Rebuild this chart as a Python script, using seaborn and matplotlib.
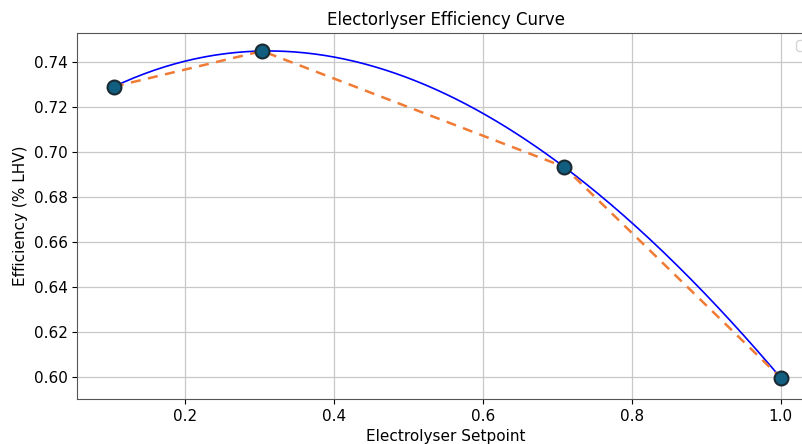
import numpy as np
import pandas as pd
import matplotlib
matplotlib.use("Agg")
import matplotlib.pyplot as plt
import seaborn as sns

setpoints = [0.105, 0.304, 0.709, 1.0]
efficiency = [0.7289, 0.7447, 0.6933, 0.5996]

df = pd.DataFrame({"setpoint": setpoints, "efficiency": efficiency})

# fitted curve (cubic through the measured points)
coef = np.polyfit(setpoints, efficiency, 3)
xs = np.linspace(min(setpoints), max(setpoints), 200)
fit = pd.DataFrame({"setpoint": xs, "efficiency": np.polyval(coef, xs)})

plt.rcParams['font.family'] = ['DejaVu Sans']
fig = plt.figure(figsize=(8.03, 4.44), dpi=100)
ax = fig.add_axes([77.3 / 803, 45 / 444, 737 / 803, 366 / 444])

sns.lineplot(data=fit, x="setpoint", y="efficiency", color="blue", lw=1.2, ax=ax)
sns.lineplot(data=df, x="setpoint", y="efficiency", color="#f07b35", lw=1.8,
             linestyle=(0, (4, 3)), ax=ax)
ax.plot(df["setpoint"], df["efficiency"], linestyle="none", marker="o",
        markersize=10, markerfacecolor="#125e80", markeredgecolor="#1a2a33",
        markeredgewidth=1.5, zorder=5)

ax.set_xlim(0.0558, 0.0558 + 737 / 745)
ax.set_ylim(0.5902, 0.7527)
ax.set_xticks([0.2, 0.4, 0.6, 0.8, 1.0])
ax.set_yticks([0.60, 0.62, 0.64, 0.66, 0.68, 0.70, 0.72, 0.74])
ax.grid(True, color="#c8c8c8", lw=0.9)
ax.set_axisbelow(True)
ax.tick_params(labelsize=11)
for s in ax.spines.values():
    s.set_color("#555555")
ax.set_title("Electorlyser Efficiency Curve", fontsize=12)
ax.set_xlabel("Electrolyser Setpoint", fontsize=11)
ax.set_ylabel("Efficiency (% LHV)", fontsize=11)
ax.legend(loc="upper right")

fig.savefig("out.png", dpi=100)
